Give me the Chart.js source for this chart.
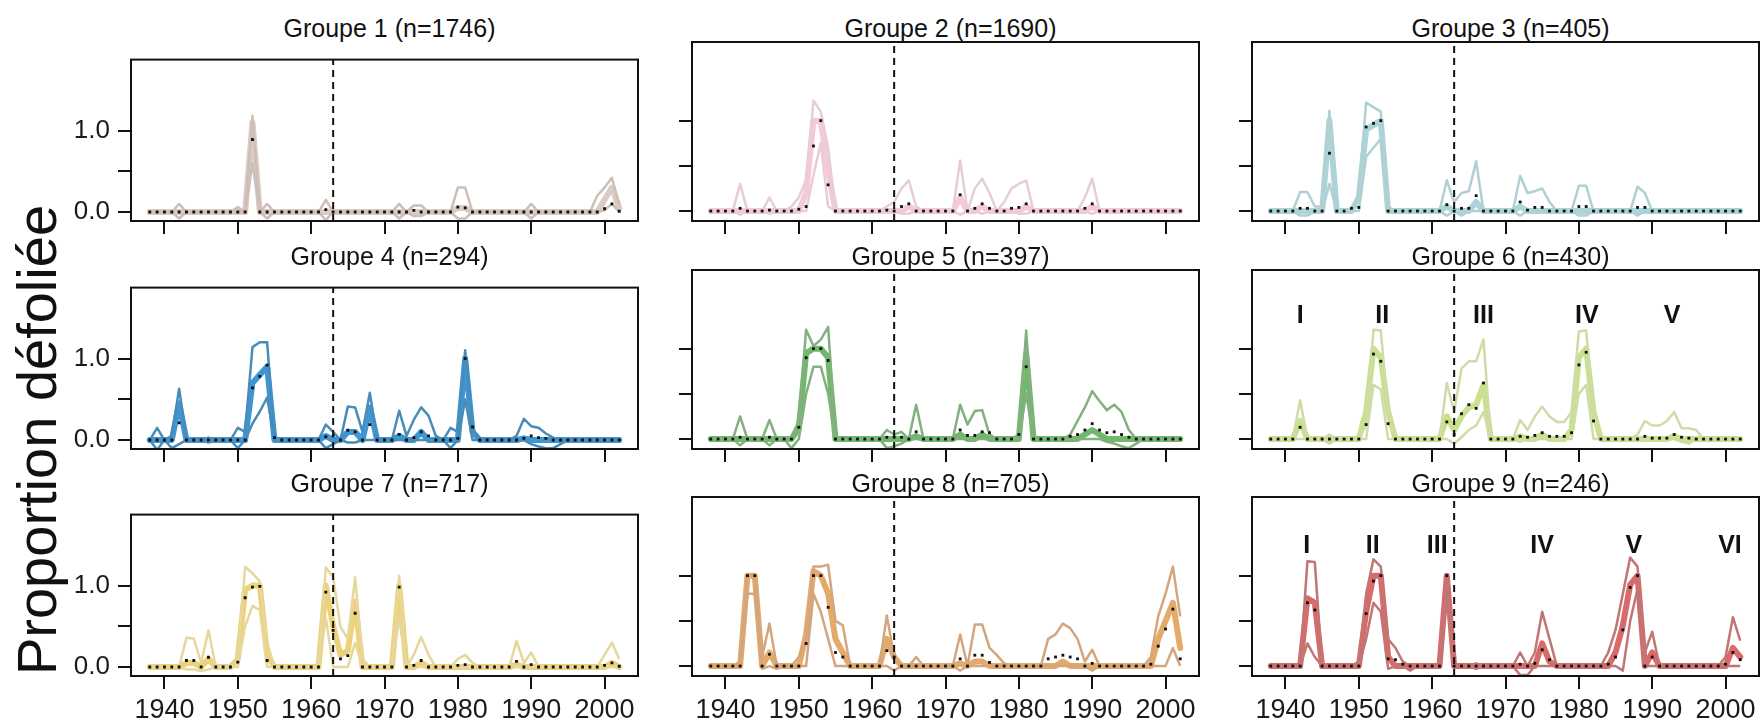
<!DOCTYPE html>
<html>
<head>
<meta charset="utf-8">
<script src="https://cdn.jsdelivr.net/npm/chart.js@4.4.1/dist/chart.umd.min.js"></script>
<style>
  html, body { margin: 0; padding: 0; background: #fff; }
  #wrap { position: relative; width: 1762px; height: 724px; overflow: hidden;
          font-family: 'Liberation Sans', Arial, sans-serif; color: #111; }
  .panel { position: absolute; }
  .title { position: absolute; font-size: 25px; line-height: 1; white-space: nowrap;
           transform: translate(-50%, -50%); }
  #ylab { position: absolute; left: 37px; top: 440px; font-size: 56px; line-height: 1;
          white-space: nowrap; transform: translate(-50%, -50%) rotate(-90deg); }
</style>
</head>
<body>
<div id="wrap"><div id="ylab">Proportion défoliée</div></div>
<script>
// years 1938..2002, grouped: 38 39 | 40s | 50s | 60s | 70s | 80s | 90s | 00 01 02
const years = [1938,1939, 1940,1941,1942,1943,1944,1945,1946,1947,1948,1949,
  1950,1951,1952,1953,1954,1955,1956,1957,1958,1959, 1960,1961,1962,1963,1964,1965,1966,1967,1968,1969,
  1970,1971,1972,1973,1974,1975,1976,1977,1978,1979, 1980,1981,1982,1983,1984,1985,1986,1987,1988,1989,
  1990,1991,1992,1993,1994,1995,1996,1997,1998,1999, 2000,2001,2002];

const xTicks = [1940, 1950, 1960, 1970, 1980, 1990, 2000];
const yTicks = [0, 0.5, 1];
const breakYear = 1963;

const titles = ['Groupe 1 (n=1746)', 'Groupe 2 (n=1690)', 'Groupe 3 (n=405)',
  'Groupe 4 (n=294)', 'Groupe 5 (n=397)', 'Groupe 6 (n=430)',
  'Groupe 7 (n=717)', 'Groupe 8 (n=705)', 'Groupe 9 (n=246)'];

// Groupe 1
const upper1 = [0,0, 0,0,.1,0,0,0,0,0,0,0, .06,0,1.18,0,.1,0,0,0,0,0, 0,0,.15,0,0,0,0,0,0,0, 0,0,.1,0,.08,.08,0,0,0,0, .3,.3,0,0,0,0,0,0,0,0, .1,0,0,0,0,0,0,0,0,.2, .3,.42,.1];
const band1  = [0,0, 0,0,0,0,0,0,0,0,0,0, 0,0,1.1,0,0,0,0,0,0,0, 0,0,0,0,0,0,0,0,0,0, 0,0,0,0,0,0,0,0,0,0, .05,.05,0,0,0,0,0,0,0,0, 0,0,0,0,0,0,0,0,0,0, .15,.3,.05];
const lower1 = [0,0, 0,0,-.08,0,0,0,0,0,0,0, 0,0,.6,0,-.08,0,0,0,0,0, 0,0,-.1,0,0,0,0,0,0,0, 0,0,-.08,0,-.05,-.05,0,0,0,0, -.08,-.08,0,0,0,0,0,0,0,0, -.08,0,0,0,0,0,0,0,0,0, .02,.1,0];
const mean1  = [0,0, 0,0,0,0,0,0,0,0,0,0, 0,0,.89,0,0,0,0,0,0,0, 0,0,.03,0,0,0,0,0,0,0, 0,0,0,0,.02,0,0,0,0,0, .06,.05,0,0,0,0,0,0,0,0, 0,0,0,0,0,0,0,0,0,0, .04,.1,.01];

// Groupe 2
const upper2 = [0,0, 0,0,.3,0,0,0,.15,0,0,.05, .15,.35,1.22,1.1,.7,0,0,0,0,0, 0,0,.05,.1,.25,.34,.05,0,0,0, 0,0,.56,0,.25,.36,.2,0,.1,.25, .3,.34,0,0,0,0,0,0,0,.15, .36,0,0,0,0,0,0,0,0,0, 0,0,0];
const band2  = [0,0, 0,0,0,0,0,0,0,0,0,0, 0,.2,1.0,1.0,.45,0,0,0,0,0, 0,0,0,0,0,.05,0,0,0,0, 0,0,.15,0,0,.05,0,0,0,0, 0,.05,0,0,0,0,0,0,0,0, .05,0,0,0,0,0,0,0,0,0, 0,0,0];
const lower2 = [0,0, 0,0,-.04,0,0,0,-.03,0,0,0, 0,0,.4,.75,.05,0,0,0,0,0, 0,0,0,0,-.03,-.03,0,0,0,0, 0,0,-.04,0,0,-.03,0,0,0,0, -.03,-.03,0,0,0,0,0,0,0,0, -.03,0,0,0,0,0,0,0,0,0, 0,0,0];
const mean2  = [0,0, 0,0,.03,0,0,0,.01,0,0,0, .02,.05,.72,1.0,.29,0,0,0,0,0, 0,0,.01,0,.05,.08,0,0,0,0, 0,0,.18,0,.03,.08,.03,0,0,.03, .04,.08,0,0,0,0,0,0,0,.03, .08,0,0,0,0,0,0,0,0,0, 0,0,0];

// Groupe 3
const upper3 = [0,0, 0,0,.21,.21,.05,.05,1.11,0,0,0, .2,1.2,1.15,1.1,.05,0,0,0,0,0, 0,0,.34,.1,.2,.22,.55,0,0,0, 0,0,.39,.2,.22,.25,.1,0,0,0, .28,.28,0,0,0,0,0,0,.27,.2, 0,0,0,0,0,0,0,0,0,0, 0,0,0];
const band3  = [0,0, 0,0,0,0,0,0,1.0,0,0,0, .15,.9,.95,1.0,0,0,0,0,0,0, 0,0,.05,0,0,0,.1,0,0,0, 0,0,.05,0,0,0,0,0,0,0, 0,0,0,0,0,0,0,0,0,0, 0,0,0,0,0,0,0,0,0,0, 0,0,0];
const lower3 = [0,0, 0,0,-.05,-.05,0,0,.3,0,0,0, 0,.6,.7,.8,0,0,0,0,0,0, 0,0,-.05,0,-.05,0,0,0,0,0, 0,0,-.05,0,0,0,0,0,0,0, -.05,-.05,0,0,0,0,0,0,-.05,0, 0,0,0,0,0,0,0,0,0,0, 0,0,0];
const mean3  = [0,0, 0,0,.03,.03,0,0,.64,0,0,.03, .04,.93,.97,1.0,0,0,0,0,0,0, 0,0,.07,0,.03,.03,.17,0,0,0, 0,0,.1,.01,.04,.04,0,0,0,0, .05,.05,0,0,0,0,0,0,.04,.04, 0,0,0,0,0,0,0,0,0,0, 0,0,0];

// Groupe 4
const upper4 = [0,.15, 0,.05,.63,0,0,0,.03,0,0,0, .15,.1,1.14,1.2,1.2,0,0,0,0,0, 0,0,.19,.1,0,.41,.4,.1,.58,0, 0,0,.36,.05,.25,.4,.3,.05,0,.15, .1,1.1,.15,0,0,0,0,0,.05,.26, .17,.15,.08,.03,0,0,0,0,0,0, 0,0,0];
const band4  = [0,0, 0,0,.45,0,0,0,0,0,0,0, 0,0,.7,.8,.9,0,0,0,0,0, 0,0,.05,0,0,.1,.1,0,.4,0, 0,0,.05,0,0,.1,0,0,0,0, 0,1.0,.1,0,0,0,0,0,0,.02, 0,0,0,0,0,0,0,0,0,0, 0,0,0];
const lower4 = [0,-.12, 0,-.1,-.05,0,0,0,-.03,0,0,0, -.1,0,.2,.35,.52,0,0,0,0,0, 0,0,-.1,-.05,0,-.03,-.03,0,0,0, 0,0,0,0,0,0,0,0,0,-.1, 0,.5,0,0,0,0,0,0,0,0, -.05,-.08,-.1,-.1,-.05,0,0,0,0,0, 0,0,0];
const mean4  = [0,0, 0,0,.21,0,0,0,0,0,0,0, 0,0,.64,.78,.92,.03,0,0,0,0, 0,0,.04,.05,0,.12,.1,0,.19,0, 0,0,.07,0,.03,.1,.05,0,0,0, .02,1.0,.16,0,0,0,0,0,0,.02, .05,.03,.02,0,0,0,0,0,0,0, 0,0,0];

// Groupe 5
const upper5 = [0,0, 0,0,.25,0,0,0,.21,0,0,.03, .2,1.21,1.03,1.1,1.24,0,0,0,0,0, 0,0,.1,.05,.08,0,.38,0,0,0, 0,0,.38,.16,.31,.32,.05,0,0,0, .05,1.2,0,0,0,0,0,.05,.2,.35, .53,.42,.32,.38,.3,.1,0,0,0,0, 0,0,0];
const band5  = [0,0, 0,0,0,0,0,0,0,0,0,0, .12,.95,1.0,1.0,.9,0,0,0,0,0, 0,0,0,0,0,0,.03,0,0,0, 0,0,.05,0,0,.05,0,0,0,0, 0,.95,0,0,0,0,0,0,0,.05, .1,.05,0,0,0,0,0,0,0,0, 0,0,0];
const lower5 = [0,0, 0,0,-.07,0,0,0,-.07,0,0,-.1, 0,.5,.8,.8,.5,0,0,0,0,0, 0,0,-.1,-.08,-.05,0,0,0,0,0, 0,0,0,0,0,0,0,0,0,0, 0,.5,0,0,0,0,0,0,0,0, 0,0,-.03,-.05,-.08,-.1,-.05,0,0,0, 0,0,0];
const mean5  = [0,0, 0,0,.02,0,0,0,.02,0,0,0, .13,.9,1.0,1.0,.87,0,0,0,0,0, 0,0,.02,.02,.02,0,.08,0,0,0, 0,0,.1,.04,.04,.08,.07,0,0,0, .05,.8,0,0,0,0,0,.03,.05,.1, .17,.1,.07,.08,.05,.02,0,0,0,0, 0,0,0];

// Groupe 6
const upper6 = [0,0, 0,0,.43,0,0,0,.05,0,0,0, 0,.15,1.21,1.2,.3,0,0,0,0,0, 0,0,.62,.3,.78,.86,.86,1.1,0,0, 0,0,.21,.1,.25,.36,.25,.19,.19,.3, 1.19,1.2,.3,0,0,0,0,0,.05,.2, .15,.15,.2,.3,.12,.12,.1,0,0,0, 0,0,0];
const band6  = [0,0, 0,0,.2,0,0,0,0,0,0,0, 0,.3,1.0,.9,.3,0,0,0,0,0, 0,0,.25,.1,.25,.35,.38,.6,0,0, 0,0,.03,0,0,.05,0,0,0,.1, .9,1.0,.3,0,0,0,0,0,0,0, 0,0,0,.03,0,0,0,0,0,0, 0,0,0];
const lower6 = [0,0, 0,0,0,0,0,0,-.05,0,0,0, 0,0,.6,.55,0,0,0,0,0,0, 0,0,0,-.05,.02,.1,.15,.3,0,0, 0,0,-.03,0,0,0,0,0,0,0, .5,.6,0,0,0,0,0,0,0,0, 0,0,0,0,-.03,-.05,0,0,0,0, 0,0,0];
const mean6  = [0,0, 0,0,.13,0,0,0,0,0,0,0, 0,.16,.94,.86,.17,0,0,0,0,0, 0,0,.19,.05,.28,.38,.34,.62,0,0, 0,0,.03,.02,.04,.07,.03,.03,.03,.07, .82,.96,.2,0,0,0,0,0,0,.03, .01,.01,.01,.05,.02,.01,0,0,0,0, 0,0,0];

// Groupe 7
const upper7 = [0,0, 0,0,0,.36,.35,.05,.45,0,0,0, .1,1.23,1.15,1.05,.3,0,0,0,0,0, 0,0,1.22,1.1,.49,.35,1.1,.1,0,0, 0,0,1.12,0,.15,.37,.15,0,0,0, .1,.15,.05,0,0,0,0,0,.32,.05, .18,0,0,0,0,0,0,0,0,0, .15,.3,.1];
const band7  = [0,0, 0,0,0,.05,.05,0,.1,0,0,0, .1,.95,1.0,1.0,.15,0,0,0,0,0, 0,0,1.0,.5,.15,.2,.8,0,0,0, 0,0,1.0,0,0,.05,0,0,0,0, 0,0,0,0,0,0,0,0,.03,0, 0,0,0,0,0,0,0,0,0,0, 0,.05,0];
const lower7 = [0,0, 0,0,0,-.03,-.03,-.05,-.03,0,0,0, 0,.5,.75,.7,0,0,0,0,0,0, 0,0,.6,0,0,0,.3,0,0,0, 0,0,.6,0,0,0,0,0,0,0, 0,0,0,0,0,0,0,0,0,0, 0,0,0,0,0,0,0,0,0,0, 0,0,0];
const mean7  = [0,0, 0,0,0,.08,.08,0,.12,0,0,0, .06,.85,.98,.99,.08,0,0,0,0,0, 0,0,.92,.45,.1,.14,.66,0,0,0, 0,0,.98,0,.02,.08,0,0,0,0, .02,.03,0,0,0,0,0,0,.07,0, .03,0,0,0,0,0,0,0,0,0, .02,.05,.01];

// Groupe 8
const upper8 = [0,0, 0,0,.05,1.0,1.0,.1,.47,0,0,0, .1,.3,1.1,1.1,1.12,.5,.45,0,0,0, 0,0,.56,.1,0,0,.1,0,0,0, 0,0,.35,0,.46,.46,.2,.12,.03,0, 0,0,0,0,.3,.35,.47,.42,.3,.05, .18,0,0,0,0,0,0,0,.1,.55, .8,1.1,.55];
const band8  = [0,0, 0,0,0,1.0,1.0,0,.15,0,0,0, 0,.35,1.05,1.0,.8,.3,.15,0,0,0, 0,0,.3,.1,0,0,0,0,0,0, 0,0,.03,0,.05,.05,0,0,0,0, 0,0,0,0,0,0,.05,0,0,0, 0,0,0,0,0,0,0,0,0,.3, .5,.7,.2];
const lower8 = [0,0, 0,0,0,.8,.8,-.03,0,-.03,0,0, 0,0,.8,.6,.3,0,0,0,0,0, 0,0,0,-.05,0,0,0,0,0,0, 0,0,-.05,0,0,0,0,0,0,0, 0,0,0,0,0,0,0,0,0,0, -.05,0,0,0,0,0,0,0,0,0, 0,.2,0];
const mean8  = [0,0, 0,0,0,1.0,1.0,0,.13,0,0,0, 0,.25,1.0,1.0,.65,.15,.1,0,0,0, 0,0,.17,.1,0,0,0,0,0,0, 0,0,.08,0,.12,.12,.04,0,0,0, 0,0,0,0,.08,.1,.12,.1,.08,0, .03,0,0,0,0,0,0,0,.02,.22, .41,.63,.08];

// Groupe 9
const upper9 = [0,0, 0,0,0,1.16,1.15,0,0,0,0,0, .05,.8,1.18,1.1,.3,.2,.05,0,0,0, 0,0,1.0,0,0,0,.03,0,0,0, 0,0,.15,0,.15,.6,.3,0,0,0, 0,0,0,0,.15,.4,.8,1.2,1.1,.15, .38,0,0,0,0,0,0,0,0,0, .1,.54,.28];
const band9  = [0,0, 0,0,0,.75,.7,0,0,0,0,0, 0,.6,1.0,1.0,.1,0,0,0,0,0, 0,0,1.0,0,0,0,0,0,0,0, 0,0,0,0,0,.25,.05,0,0,0, 0,0,0,0,0,.15,.45,.9,1.0,0, .15,0,0,0,0,0,0,0,0,0, 0,.2,.1];
const lower9 = [0,0, 0,0,0,.25,.1,0,0,0,0,0, 0,.3,.7,.6,-.03,0,0,-.05,0,0, 0,0,.8,0,0,0,-.03,0,0,0, 0,0,-.1,-.1,0,0,0,0,0,0, 0,0,0,0,0,0,-.05,.5,.85,0, 0,0,0,0,0,0,0,0,0,0, 0,0,0];
const mean9  = [0,0, 0,0,0,.7,.62,0,0,0,0,0, 0,.58,.94,1.0,.08,.07,.02,0,0,0, 0,0,1.0,0,0,0,0,0,0,0, 0,0,.02,0,.03,.18,.07,0,0,0, 0,0,0,0,.02,.1,.4,.87,1.0,0, .1,0,0,0,0,0,0,0,0,0, .02,.15,.07];

// outbreak labels (groups 6 and 9)
const marks6 = ['I', 'II', 'III', 'IV', 'V'];
const markYears6 = [1942, 1953.2, 1967, 1981.1, 1992.7];
const marks9 = ['I', 'II', 'III', 'IV', 'V', 'VI'];
const markYears9 = [1942.9, 1951.9, 1960.7, 1975, 1987.5, 2000.6];

const thickColors = ['#dacbc3', '#f5c8da', '#abd5d9', '#3f96d4', '#70b96c', '#c9e08c', '#edd27c', '#e3aa6a', '#d96a6a'];
const thinColors  = ['#cdbfb7', '#e6cdd6', '#b0d0d4', '#4a8cb8', '#84b07f', '#d0dba8', '#e6d79a', '#d4a67e', '#c07674'];

const uppers = [upper1, upper2, upper3, upper4, upper5, upper6, upper7, upper8, upper9];
const bands  = [band1, band2, band3, band4, band5, band6, band7, band8, band9];
const lowers = [lower1, lower2, lower3, lower4, lower5, lower6, lower7, lower8, lower9];
const means  = [mean1, mean2, mean3, mean4, mean5, mean6, mean7, mean8, mean9];

// layout of the plot boxes
const colLeft = [131, 692, 1252];
const rowTop = [42, 270, 497];
const boxW = 507, boxH = 179;
const padL = 80, padT = 6, padR = 6, padB = 60;
const FONT = "'Liberation Sans', Arial, sans-serif";
const xMin = 1935.44, xMax = 2004.56, yMin = -0.11, yMax = 1.87;

const toXY = vals => years.map((yr, i) => ({ x: yr, y: vals[i] }));

// box around each plot + roman numerals
const framePlugin = {
  id: 'frame',
  afterDatasetsDraw(chart, args, opts) {
    const { ctx, chartArea: a } = chart;
    const xs = chart.scales.x, ys = chart.scales.y;
    ctx.save();
    if (opts.marks) {
      ctx.font = 'bold 25px ' + FONT;
      ctx.fillStyle = '#111';
      ctx.textAlign = 'center';
      ctx.textBaseline = 'middle';
      opts.marks.forEach((m, k) => {
        ctx.fillText(m, xs.getPixelForValue(opts.markYears[k]), ys.getPixelForValue(opts.markY));
      });
    }
    ctx.strokeStyle = '#111';
    ctx.lineWidth = 2;
    ctx.strokeRect(a.left, a.top, a.width, a.height);
    ctx.restore();
  }
};

const wrap = document.getElementById('wrap');

for (let i = 0; i < 9; i++) {
  const col = i % 3, row = Math.floor(i / 3);

  const title = document.createElement('div');
  title.className = 'title';
  title.textContent = titles[i];
  title.style.left = (colLeft[col] + boxW / 2 + 5) + 'px';
  title.style.top = (rowTop[row] - 14) + 'px';
  wrap.appendChild(title);

  const holder = document.createElement('div');
  holder.className = 'panel';
  holder.style.left = (colLeft[col] - padL) + 'px';
  holder.style.top = (rowTop[row] - padT) + 'px';
  const canvas = document.createElement('canvas');
  canvas.width = boxW + padL + padR;
  canvas.height = boxH + padT + padB;
  holder.appendChild(canvas);
  wrap.appendChild(holder);

  let frameOpts = {};
  if (i === 5) frameOpts = { marks: marks6, markYears: markYears6, markY: 1.36 };
  if (i === 8) frameOpts = { marks: marks9, markYears: markYears9, markY: 1.33 };

  const gridOpts = {
    drawOnChartArea: false, drawTicks: true, tickLength: 13,
    color: '#111', lineWidth: 2, tickColor: '#111', tickWidth: 2
  };

  new Chart(canvas, {
    type: 'line',
    data: {
      datasets: [
        {
          data: toXY(means[i]), showLine: false,
          pointStyle: 'rect', pointRadius: 2, pointBackgroundColor: '#111', pointBorderWidth: 0
        },
        {
          data: [{ x: breakYear, y: yMin }, { x: breakYear, y: yMax }],
          borderColor: '#111', borderWidth: 2, borderDash: [7, 5], pointRadius: 0
        },
        {
          data: toXY(uppers[i]), borderColor: thinColors[i], borderWidth: 2.5,
          borderJoinStyle: 'round', pointRadius: 0
        },
        {
          data: toXY(lowers[i]), borderColor: thinColors[i], borderWidth: 2.5,
          borderJoinStyle: 'round', pointRadius: 0
        },
        {
          data: toXY(bands[i]), borderColor: thickColors[i], borderWidth: 6,
          borderJoinStyle: 'round', borderCapStyle: 'round', pointRadius: 0
        }
      ]
    },
    options: {
      responsive: false,
      animation: false,
      devicePixelRatio: 1,
      layout: { padding: { top: padT, right: padR, left: 0, bottom: 0 } },
      plugins: {
        legend: { display: false },
        tooltip: { enabled: false },
        frame: frameOpts
      },
      scales: {
        x: {
          type: 'linear', min: xMin, max: xMax,
          afterBuildTicks: s => { s.ticks = xTicks.map(v => ({ value: v })); },
          afterFit: s => { s.height = padB; },
          border: { display: false },
          grid: gridOpts,
          ticks: {
            display: row === 2, autoSkip: false, maxRotation: 0, minRotation: 0,
            padding: 5, color: '#1a1a1a', font: { family: FONT, size: 27 },
            callback: v => String(v)
          }
        },
        y: {
          type: 'linear', min: yMin, max: yMax,
          afterBuildTicks: s => { s.ticks = yTicks.map(v => ({ value: v })); },
          afterFit: s => { s.width = padL; },
          border: { display: false },
          grid: gridOpts,
          ticks: {
            display: col === 0, padding: 8, color: '#1a1a1a',
            font: { family: FONT, size: 26 },
            callback: v => (v === 0.5 ? '' : v.toFixed(1))
          }
        }
      }
    },
    plugins: [framePlugin]
  });
}
</script>
</body>
</html>
